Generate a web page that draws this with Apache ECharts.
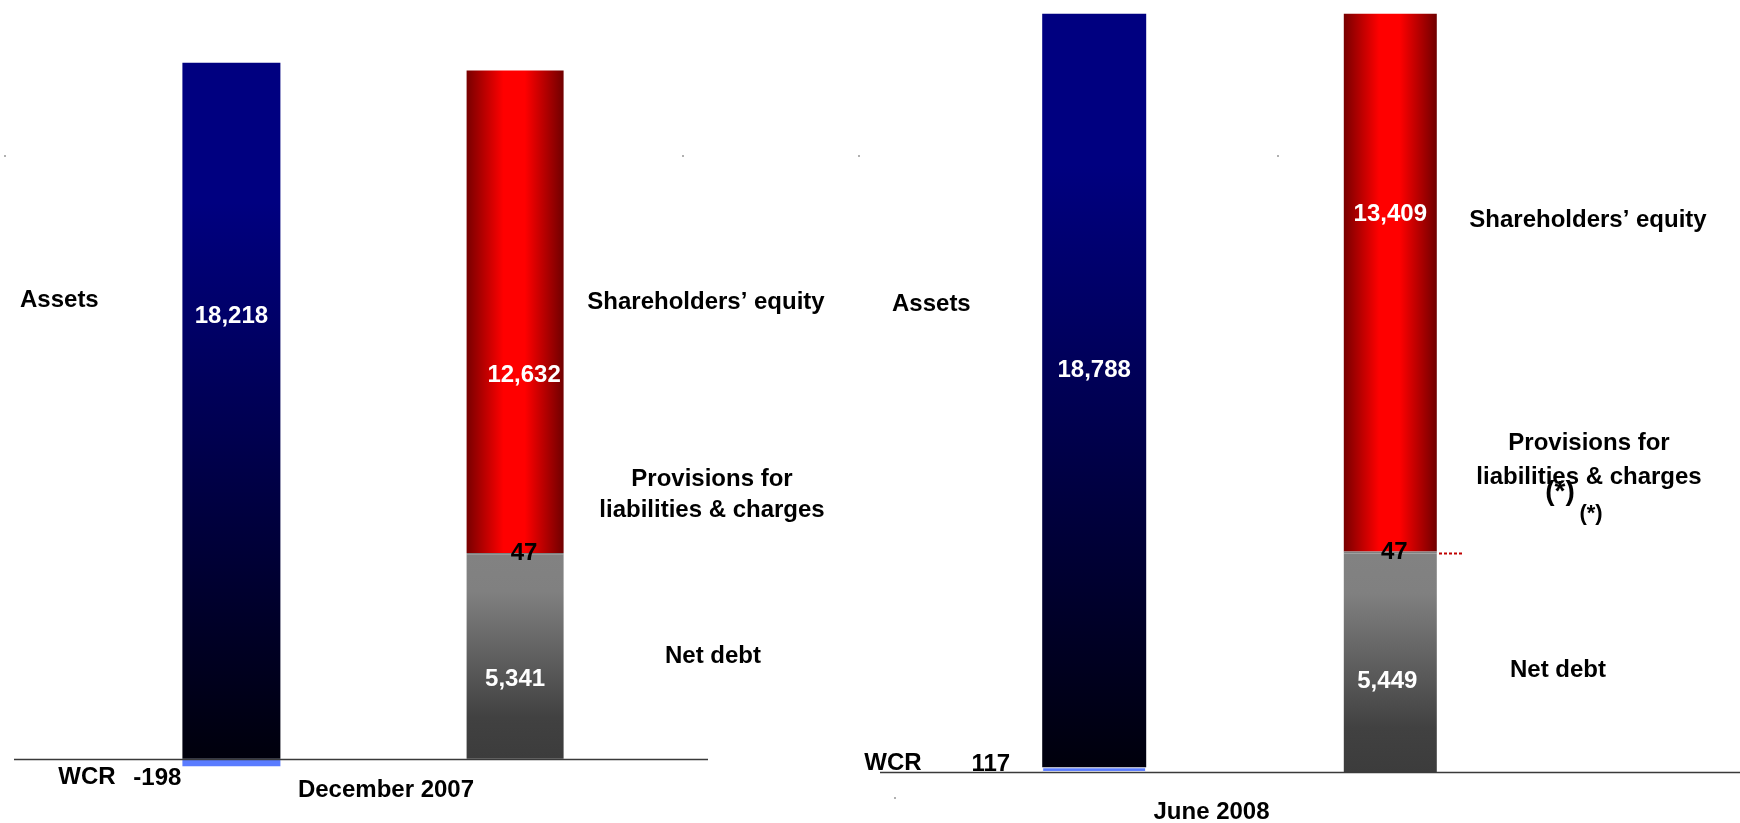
<!DOCTYPE html>
<html>
<head>
<meta charset="utf-8">
<title>Balance sheet</title>
<script src="https://cdn.jsdelivr.net/npm/echarts/dist/echarts.min.js"></script>
<style>
    html, body {margin: 0; padding: 0; background: #fff;}
    #main {width: 1740px; height: 823px;}
</style>
</head>
<body>
<div id="main"></div>
<script>
// periods (one panel each)
var periods = ['December 2007', 'June 2008'];
// assets side
var assets = [18218, 18788];
var wcr = [-198, 117];
// liabilities side
var netDebt = [5341, 5449];
var provisions = [47, 47];
var equity = [12632, 13409];

var FONT = '"Liberation Sans", Arial, sans-serif';

// layout of both panels
var panels = [
    {left: 14, width: 718, top: 33, height: 741, lineFrom: 14, lineTo: 708,
        assetW: 98, liabW: 97, labelPad: [0, 0, 0, 26], labelMargin: 4,
        offAssets: [0, -94], offDebt: [0, 23], offProv: [9, 0], offEquity: [9, 64], offWcr: [0, 16], wcrDist: 1},
    {left: 880, width: 719, top: 10, height: 778, lineFrom: 880, lineTo: 1740,
        assetW: 104, liabW: 93, labelPad: [0, 56, 0, 0], labelMargin: 12,
        offAssets: [0, -20], offDebt: [-3, 19], offProv: [4, 0], offEquity: [0, -68], offWcr: [0, -5], wcrDist: 32}
];

var blueFill = new echarts.graphic.LinearGradient(0, 0, 0, 1, [
    {offset: 0, color: '#000080'},
    {offset: 0.2, color: '#000080'},
    {offset: 1, color: '#00000c'}
]);
var redFill = new echarts.graphic.LinearGradient(0, 0, 1, 0, [
    {offset: 0, color: '#780000'},
    {offset: 0.38, color: '#ff0000'},
    {offset: 0.6, color: '#ff0000'},
    {offset: 1, color: '#700000'}
]);
var greyFill = new echarts.graphic.LinearGradient(0, 0, 0, 1, [
    {offset: 0, color: '#828282'},
    {offset: 0.18, color: '#808080'},
    {offset: 0.8, color: '#414141'},
    {offset: 1, color: '#3c3c3c'}
]);

function fmt(v) {
    return v.toLocaleString('en-US');
}

function valueLabel(color, offset) {
    return {
        show: true,
        position: 'inside',
        offset: offset,
        color: color,
        fontFamily: FONT,
        fontWeight: 'bold',
        fontSize: 24,
        formatter: function (p) { return fmt(p.value); }
    };
}

var grids = [], xAxes = [], yAxes = [], series = [];
panels.forEach(function (p, i) {
    grids.push({left: p.left, width: p.width, top: p.top, height: p.height,
        containLabel: false, outerBoundsMode: 'none'});
    xAxes.push({
        type: 'category',
        gridIndex: i,
        data: [periods[i]],
        axisLine: {show: false, onZero: false},
        axisTick: {show: false},
        axisLabel: {
            color: '#000', fontFamily: FONT, fontWeight: 'bold', fontSize: 24,
            margin: p.labelMargin, padding: p.labelPad
        }
    });
    yAxes.push({
        type: 'value',
        gridIndex: i,
        min: -400,
        max: 19000,
        show: false,
        splitLine: {show: false}
    });
    series.push(
        {
            name: 'WCR', type: 'bar', xAxisIndex: i, yAxisIndex: i, stack: 'assets' + i,
            barWidth: p.assetW, barGap: '190%',
            data: [wcr[i]],
            itemStyle: {color: '#5a7cff', borderColor: '#fff', borderWidth: i === 1 ? 1 : 0},
            label: {
                show: true, position: 'left', distance: p.wcrDist, offset: p.offWcr,
                color: '#000', fontFamily: FONT, fontWeight: 'bold', fontSize: 24,
                formatter: function (q) { return fmt(q.value); }
            }
        },
        {
            name: 'Assets', type: 'bar', xAxisIndex: i, yAxisIndex: i, stack: 'assets' + i,
            barWidth: p.assetW, barGap: '190%',
            data: [assets[i]],
            itemStyle: {color: blueFill},
            label: valueLabel('#fff', p.offAssets)
        },
        {
            name: 'Net debt', type: 'bar', xAxisIndex: i, yAxisIndex: i, stack: 'liab' + i,
            barWidth: p.liabW, barGap: '190%',
            data: [netDebt[i]],
            itemStyle: {color: greyFill},
            label: valueLabel('#fff', p.offDebt)
        },
        {
            name: 'Provisions', type: 'bar', xAxisIndex: i, yAxisIndex: i, stack: 'liab' + i,
            barWidth: p.liabW, barGap: '190%',
            data: [provisions[i]],
            itemStyle: {color: '#808080'},
            label: valueLabel('#000', p.offProv),
            z: 3
        },
        {
            name: 'Shareholders\u2019 equity', type: 'bar', xAxisIndex: i, yAxisIndex: i, stack: 'liab' + i,
            barWidth: p.liabW, barGap: '190%',
            data: [equity[i]],
            itemStyle: {color: redFill},
            label: valueLabel('#fff', p.offEquity),
            z: 2
        }
    );
});

function txt(x, y, text, opt) {
    opt = opt || {};
    return {
        type: 'text', x: x, y: y, z: 10,
        style: {
            text: text,
            fill: '#000',
            font: 'bold ' + (opt.size || 24) + 'px ' + FONT,
            align: opt.align || 'center',
            verticalAlign: 'middle',
            lineHeight: opt.lineHeight || 30
        }
    };
}

var myChart = echarts.init(document.getElementById('main'));
myChart.setOption({
    animation: false,
    backgroundColor: '#fff',
    grid: grids,
    xAxis: xAxes,
    yAxis: yAxes,
    series: series
});

// baselines, series names and small marks
var extras = [];
panels.forEach(function (p, i) {
    var y0 = Math.round(myChart.convertToPixel({yAxisIndex: i}, 0)) + 0.5;
    extras.push({
        type: 'line', z: 5,
        shape: {x1: p.lineFrom, y1: y0, x2: p.lineTo, y2: y0},
        style: {stroke: '#3a3a3a', lineWidth: 1.5}
    });
});
var yProv = myChart.convertToPixel({yAxisIndex: 1}, netDebt[1] + provisions[1]);
extras.push({
    type: 'line', z: 5,
    shape: {x1: 1439, y1: yProv + 2, x2: 1464, y2: yProv + 2},
    style: {stroke: '#c00000', lineWidth: 2, lineDash: [3, 2]}
});

extras.push(
    txt(20, 300, 'Assets', {align: 'left'}),
    txt(706, 302, 'Shareholders\u2019 equity'),
    txt(712, 495, 'Provisions for\nliabilities & charges', {lineHeight: 31}),
    txt(713, 656, 'Net debt'),
    txt(87, 777, 'WCR'),

    txt(892, 304, 'Assets', {align: 'left'}),
    txt(1588, 220, 'Shareholders\u2019 equity'),
    txt(1589, 460, 'Provisions for\nliabilities & charges', {lineHeight: 34}),
    txt(1560, 492, '(*)', {size: 28}),
    txt(1591, 514, '(*)', {size: 22}),
    txt(1558, 670, 'Net debt'),
    txt(893, 763, 'WCR')
);

[[4, 155], [682, 155], [858, 155], [1277, 155], [894, 797]].forEach(function (d) {
    extras.push({
        type: 'rect', z: 1,
        shape: {x: d[0], y: d[1], width: 2, height: 2},
        style: {fill: '#b0b0b0'}
    });
});

myChart.setOption({graphic: extras});
</script>
</body>
</html>
